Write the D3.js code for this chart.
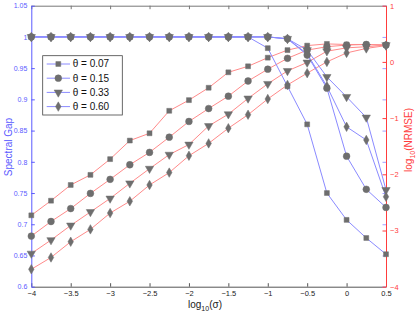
<!DOCTYPE html>
<html>
<head>
<meta charset="utf-8">
<script src="https://cdn.jsdelivr.net/npm/d3@7"></script>
<style>
  body { margin: 0; background: #fff; }
  svg { display: block; font-family: "Liberation Sans", Arial, sans-serif; }
</style>
</head>
<body>
<svg id="chart"></svg>
<script>
var width = 419;
var height = 316;
var margin = {top: 5.7, right: 33, bottom: 29.3, left: 31.3};

// log10(sigma)
var sigmaLog = [-4, -3.75, -3.5, -3.25, -3, -2.75, -2.5, -2.25, -2, -1.75, -1.5, -1.25, -1, -0.75, -0.5, -0.25, 0, 0.25, 0.5];
var thetaLabels = ["θ = 0.07", "θ = 0.15", "θ = 0.33", "θ = 0.60"];

// spectral gap (left axis)
var gap007 = [1, 1, 1, 1, 1, 1, 1, 1, 1, 1, 1, 1, 0.982, 0.921, 0.860, 0.750, 0.707, 0.678, 0.652];
var gap015 = [1, 1, 1, 1, 1, 1, 1, 1, 1, 1, 1, 1, 1, 0.997, 0.971, 0.918, 0.809, 0.756, 0.727];
var gap033 = [1, 1, 1, 1, 1, 1, 1, 1, 1, 1, 1, 1, 1, 0.997, 0.979, 0.936, 0.904, 0.871, 0.755];
var gap060 = [1, 1, 1, 1, 1, 1, 1, 1, 1, 1, 1, 1, 1, 0.997, 0.973, 0.921, 0.856, 0.835, 0.744];

// log10(NRMSE) (right axis)
var err007 = [-2.73, -2.47, -2.19, -2.01, -1.73, -1.40, -1.27, -0.87, -0.68, -0.46, -0.185, -0.078, 0.075, 0.21, 0.29, 0.32, 0.31, 0.31, 0.30];
var err015 = [-3.10, -2.84, -2.61, -2.34, -2.09, -1.83, -1.61, -1.34, -1.06, -0.83, -0.61, -0.34, -0.13, 0.064, 0.21, 0.27, 0.30, 0.31, 0.30];
var err033 = [-3.41, -3.17, -2.91, -2.67, -2.43, -2.16, -1.90, -1.65, -1.47, -1.14, -0.93, -0.65, -0.39, -0.16, -0.01, 0.19, 0.25, 0.27, 0.30];
var err060 = [-3.69, -3.48, -3.20, -2.98, -2.69, -2.48, -2.19, -1.97, -1.67, -1.45, -1.18, -0.94, -0.66, -0.41, -0.20, 0.0, 0.16, 0.24, 0.29];

var xTicks = [-4, -3.5, -3, -2.5, -2, -1.5, -1, -0.5, 0, 0.5];
var gapTicks = [0.6, 0.65, 0.7, 0.75, 0.8, 0.85, 0.9, 0.95, 1, 1.05];
var errTicks = [-4, -3, -2, -1, 0, 1];

var gapSeries = [gap007, gap015, gap033, gap060];
var errSeries = [err007, err015, err033, err060];

var blueAxis = "#5a5aff";
var redAxis = "#ff3c3c";
var blueLine = "#8a8aff";
var redLine = "#ff8a8a";
var markerFill = "#6e6e6e";

var symbols = [
  d3.symbol().type(d3.symbolSquare).size(24),
  d3.symbol().type(d3.symbolCircle).size(36),
  d3.symbol().type(d3.symbolTriangle).size(30),
  d3.symbol().type(d3.symbolDiamond).size(26)
];
var symbolRot = [0, 0, 180, 0];

var xScale = d3.scaleLinear()
  .domain([-4, 0.5])
  .range([margin.left, width - margin.right]);

var yGap = d3.scaleLinear()
  .domain([0.6, 1.05])
  .range([height - margin.bottom, margin.top]);

var yErr = d3.scaleLinear()
  .domain([-4, 1])
  .range([height - margin.bottom, margin.top]);

var svg = d3.select('#chart')
  .attr('width', width)
  .attr('height', height);

var x0 = margin.left, x1 = width - margin.right;
var y0 = height - margin.bottom, y1 = margin.top;

// bottom axis
var xAxis = d3.axisBottom(xScale)
  .tickValues(xTicks)
  .tickSize(-3.5)
  .tickSizeOuter(0)
  .tickPadding(3)
  .tickFormat(d => d3.format("")(d).replace("-", "−"));
var gx = svg.append('g')
  .attr('transform', "translate(0," + y0 + ")")
  .call(xAxis);
gx.select('.domain').attr('stroke', '#555');
gx.selectAll('.tick line').attr('stroke', '#555');
gx.selectAll('.tick text').attr('fill', '#222').style('font-size', '7.5px').attr('dy', '0.8em');

// top axis (ticks only)
var gt = svg.append('g')
  .attr('transform', "translate(0," + y1 + ")")
  .call(d3.axisTop(xScale).tickValues(xTicks).tickSize(-3.5).tickSizeOuter(0).tickFormat(""));
gt.select('.domain').attr('stroke', '#777');
gt.selectAll('.tick line').attr('stroke', '#777');

// left axis
var gl = svg.append('g')
  .attr('transform', "translate(" + x0 + ",0)")
  .call(d3.axisLeft(yGap).tickValues(gapTicks).tickSize(-3.5).tickSizeOuter(0).tickPadding(4)
    .tickFormat(d => d3.format("")(+d.toFixed(2))));
gl.select('.domain').attr('stroke', blueAxis);
gl.selectAll('.tick line').attr('stroke', blueAxis);
gl.selectAll('.tick text').attr('fill', blueAxis).style('font-size', '7px');

// mirrored blue ticks on the right
svg.append('g')
  .attr('transform', "translate(" + x1 + ",0)")
  .call(d3.axisRight(yGap).tickValues(gapTicks).tickSize(-3.5).tickSizeOuter(0).tickFormat(""))
  .call(g => g.select('.domain').remove())
  .selectAll('.tick line').attr('stroke', "#a0a0ff");

// right axis
var gr = svg.append('g')
  .attr('transform', "translate(" + x1 + ",0)")
  .call(d3.axisRight(yErr).tickValues(errTicks).tickSize(-3.5).tickSizeOuter(0).tickPadding(4)
    .tickFormat(d => String(d).replace("-", "−")));
gr.select('.domain').attr('stroke', redAxis);
gr.selectAll('.tick line').attr('stroke', redAxis);
gr.selectAll('.tick text').attr('fill', redAxis).style('font-size', '7.5px');

// lines
var gapLine = d3.line().x((d, i) => xScale(sigmaLog[i])).y(d => yGap(d));
var errLine = d3.line().x((d, i) => xScale(sigmaLog[i])).y(d => yErr(d));

var plot = svg.append('g');

errSeries.forEach(function(s) {
  plot.append('path').datum(s)
    .attr('d', errLine)
    .attr('fill', 'none')
    .attr('stroke', redLine)
    .attr('stroke-width', 1);
});
gapSeries.forEach(function(s) {
  plot.append('path').datum(s)
    .attr('d', gapLine)
    .attr('fill', 'none')
    .attr('stroke', blueLine)
    .attr('stroke-width', 1);
});

function drawMarkers(series, yS) {
  series.forEach(function(s, k) {
    plot.selectAll(null)
      .data(s)
      .enter()
      .append('path')
        .attr('d', symbols[k])
        .attr('transform', (d, i) => "translate(" + xScale(sigmaLog[i]) + "," + yS(d) + ") rotate(" + symbolRot[k] + ")")
        .attr('fill', markerFill)
        .attr('stroke', markerFill)
        .attr('stroke-width', 0.5);
  });
}
drawMarkers(errSeries, yErr);
drawMarkers(gapSeries, yGap);

// legend
var lg = svg.append('g').attr('transform', 'translate(42.7,55.7)');
lg.append('rect')
  .attr('width', 79.6)
  .attr('height', 59.3)
  .attr('fill', '#fff')
  .attr('stroke', '#444')
  .attr('stroke-width', 0.8);
thetaLabels.forEach(function(t, k) {
  var yy = 8.3 + k * 14.2;
  lg.append('line')
    .attr('x1', 4).attr('x2', 27.3)
    .attr('y1', yy).attr('y2', yy)
    .attr('stroke', blueLine);
  lg.append('path')
    .attr('d', symbols[k])
    .attr('transform', "translate(15.6," + yy + ") rotate(" + symbolRot[k] + ")")
    .attr('fill', markerFill)
    .attr('stroke', markerFill)
    .attr('stroke-width', 0.5);
  lg.append('text')
    .attr('x', 30)
    .attr('y', yy)
    .attr('dy', '0.35em')
    .style('font-size', '10px')
    .attr('fill', '#111')
    .text(t);
});

// axis titles
svg.append('text')
  .attr('transform', 'rotate(-90)')
  .attr('x', -147)
  .attr('y', 12)
  .style('text-anchor', 'middle')
  .style('font-size', '10px')
  .attr('fill', blueAxis)
  .text('Spectral Gap');

var rt = svg.append('text')
  .attr('transform', 'rotate(-90)')
  .attr('x', -140)
  .attr('y', 412)
  .style('text-anchor', 'middle')
  .style('font-size', '10px')
  .attr('fill', redAxis);
rt.append('tspan').text('log');
rt.append('tspan').attr('dy', 3).style('font-size', '7px').text('10');
rt.append('tspan').attr('dy', -3).text('(NRMSE)');

var bt = svg.append('text')
  .attr('x', 205)
  .attr('y', 308)
  .style('text-anchor', 'middle')
  .style('font-size', '10px')
  .attr('fill', '#222');
bt.append('tspan').text('log');
bt.append('tspan').attr('dy', 3).style('font-size', '7px').text('10');
bt.append('tspan').attr('dy', -3).text('(σ)');
</script>
</body>
</html>
